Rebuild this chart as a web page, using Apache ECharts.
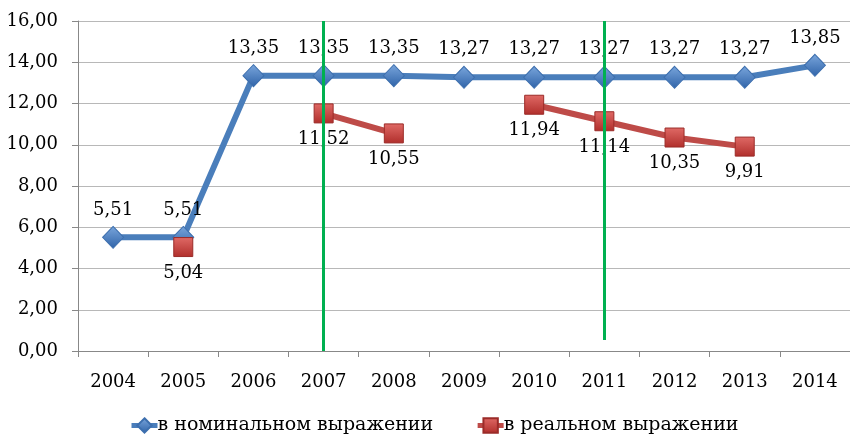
<!DOCTYPE html>
<html>
<head>
<meta charset="utf-8">
<script src="https://cdn.jsdelivr.net/npm/echarts@6/dist/echarts.min.js"></script>
<style>
  html, body { margin: 0; padding: 0; background: #fff; }
  #chart { width: 850px; height: 435px; }
</style>
</head>
<body>
<div id="chart"></div>
<script>
var years = ["2004", "2005", "2006", "2007", "2008", "2009", "2010", "2011", "2012", "2013", "2014"];
var nominal = [5.51, 5.51, 13.35, 13.35, 13.35, 13.27, 13.27, 13.27, 13.27, 13.27, 13.85];
var real = [null, 5.04, null, 11.52, 10.55, null, 11.94, 11.14, 10.35, 9.91, null];
var seriesNames = ["в номинальном выражении", "в реальном выражении"];
// green divider lines (category, top value, bottom value)
var dividers = [["2007", 16, 0], ["2011", 16, 0.53]];

var font = "'DejaVu Serif', 'Liberation Serif', serif";
function fmt(v) { return Number(v).toFixed(2).replace(".", ","); }

var myChart = echarts.init(document.getElementById("chart"));
myChart.setOption({
  backgroundColor: "#fff",
  animation: false,
  grid: { left: 78, right: 0, top: 21, bottom: 84 },
  legend: {
    top: 411,
    left: 124,
    itemGap: 42,
    itemWidth: 26,
    itemHeight: 18,
    lineStyle: { width: 5 },
    textStyle: { fontFamily: font, fontSize: 19, color: "#000", padding: [0, 0, 0, -5] },
    data: seriesNames
  },
  xAxis: {
    type: "category",
    data: years,
    boundaryGap: true,
    axisLine: { lineStyle: { color: "#888", width: 1 } },
    axisTick: { show: true, length: 6, lineStyle: { color: "#888" } },
    axisLabel: { fontFamily: font, fontSize: 18, color: "#000", margin: 22 }
  },
  yAxis: {
    type: "value",
    min: 0,
    max: 16,
    interval: 2,
    axisLine: { show: true, lineStyle: { color: "#888", width: 1 } },
    axisTick: { show: true, length: 6, lineStyle: { color: "#888" } },
    splitLine: { lineStyle: { color: "#b8b8b8", width: 1 } },
    axisLabel: { fontFamily: font, fontSize: 18, color: "#000", margin: 20, formatter: fmt }
  },
  series: [
    {
      name: seriesNames[0],
      type: "line",
      data: nominal,
      symbol: "diamond",
      symbolSize: [21, 22],
      lineStyle: { color: "#4a7ebb", width: 6 },
      itemStyle: {
        color: new echarts.graphic.LinearGradient(0, 0, 0, 1, [
          { offset: 0, color: "#7aa6dc" },
          { offset: 1, color: "#2f63a8" }
        ]),
        borderColor: "#3d6fae",
        borderWidth: 1
      },
      label: {
        show: true,
        position: "top",
        distance: 7,
        fontFamily: font,
        fontSize: 18,
        color: "#000",
        formatter: function(p) { return fmt(p.value); }
      },
      z: 3
    },
    {
      name: seriesNames[1],
      type: "line",
      data: real,
      connectNulls: false,
      symbol: "rect",
      symbolSize: [19, 19],
      showAllSymbol: true,
      lineStyle: { color: "#be4b48", width: 6 },
      itemStyle: {
        color: new echarts.graphic.LinearGradient(0, 0, 0, 1, [
          { offset: 0, color: "#e06a66" },
          { offset: 1, color: "#b02e2b" }
        ]),
        borderColor: "#9b2b28",
        borderWidth: 1
      },
      label: {
        show: true,
        position: "bottom",
        distance: 7,
        fontFamily: font,
        fontSize: 18,
        color: "#000",
        formatter: function(p) { return fmt(p.value); }
      },
      markLine: {
        silent: true,
        symbol: "none",
        label: { show: false },
        lineStyle: { color: "#00b050", width: 3, type: "solid" },
        data: dividers.map(function(d) {
          return [{ coord: [d[0], d[1]] }, { coord: [d[0], d[2]] }];
        })
      },
      z: 4
    }
  ]
});
</script>
</body>
</html>
